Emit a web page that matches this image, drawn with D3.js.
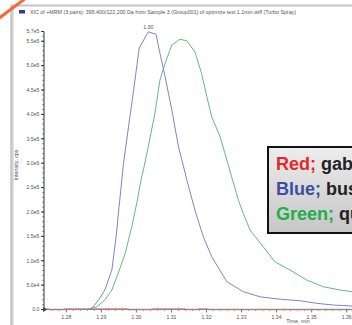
<!DOCTYPE html>
<html>
<head>
<meta charset="utf-8">
<script src="https://cdn.jsdelivr.net/npm/d3@7"></script>
<style>
  body { margin: 0; background: #fff; }
  svg { display: block; font-family: "Liberation Sans", Arial, sans-serif; }
</style>
</head>
<body>
<svg id="chart" width="352" height="325"></svg>
<script>
// time (min) / intensity (cps)
const blueTime = [1.2860, 1.2868, 1.2877, 1.2896, 1.2910, 1.2930, 1.2942, 1.2963, 1.2991, 1.3008, 1.3034, 1.3056, 1.3067, 1.3082, 1.3101, 1.3120, 1.3137, 1.3144, 1.3167, 1.3191, 1.3215, 1.3258, 1.3305, 1.3353, 1.3410, 1.3467, 1.3514, 1.3562, 1.3612, 1.3650]
const blueIntensity = [0, 1000, 5700, 23600, 40000, 81000, 149000, 299000, 444000, 536000, 569500, 564000, 526000, 477000, 409000, 334000, 286000, 265000, 204000, 149000, 108000, 57000, 36500, 26000, 21000, 18000, 12700, 9200, 7200, 6500]

const greenTime = [1.2860, 1.2873, 1.2887, 1.2910, 1.2930, 1.2948, 1.2968, 1.2987, 1.3001, 1.3015, 1.3020, 1.3034, 1.3053, 1.3067, 1.3082, 1.3101, 1.3124, 1.3144, 1.3167, 1.3186, 1.3201, 1.3215, 1.3239, 1.3291, 1.3305, 1.3324, 1.3358, 1.3395, 1.3438, 1.3486, 1.3533, 1.3581, 1.3615, 1.3650]
const greenIntensity = [0, 2500, 5700, 19500, 40000, 74000, 115000, 170000, 218000, 272000, 286000, 334000, 403000, 470000, 505000, 542000, 554000, 551000, 528000, 484000, 436000, 395000, 354000, 224000, 197000, 163000, 132000, 98000, 81000, 60500, 46700, 40000, 36500, 34000]

const redTime = [1.2737, 1.2748, 1.2752, 1.2792, 1.2796, 1.2976, 1.2980, 1.3043, 1.3047, 1.3139, 1.3143, 1.3175, 1.3179, 1.3202, 1.3206, 1.3650]
const redIntensity = [700, 700, 0, 0, 700, 700, 0, 0, 700, 700, 0, 0, 700, 700, 0, 0]

const xTicks = [1.28, 1.29, 1.30, 1.31, 1.32, 1.33, 1.34, 1.35, 1.36]
const yTicks = [0, 5e4, 1e5, 1.5e5, 2e5, 2.5e5, 3e5, 3.5e5, 4e5, 4.5e5, 5e5, 5.5e5, 5.7e5]
const yTickLabels = ["0.0", "5.0e4", "1.0e5", "1.5e5", "2.0e5", "2.5e5", "3.0e5", "3.5e5", "4.0e5", "4.5e5", "5.0e5", "5.5e5", "5.7e5"]

const legendLabels = [
    { key: "Red;", rest: " gabapentin", colour: "#e8262a" },
    { key: "Blue;", rest: " buspirone", colour: "#3c4ea2" },
    { key: "Green;", rest: " quetiapine", colour: "#22ad4b" },
]

const title = "XIC of +MRM (3 pairs): 395.400/122.200 Da  from Sample 3 (Group001) of optimize test 1.1min.wiff (Turbo Spray)"

const svg = d3.select("#chart")

const x = d3.scaleLinear().domain([1.28, 1.36]).range([66.3, 346.7])
const y = d3.scaleLinear().domain([0, 5.7e5]).range([309.5, 31.5])
const x0 = 44

// window frame
svg.append("line").attr("x1", 11).attr("x2", 352).attr("y1", 5.5).attr("y2", 5.5)
    .attr("stroke", "#c4c4c4").attr("stroke-width", 2)
svg.append("line").attr("x1", 11.5).attr("x2", 11.5).attr("y1", 5).attr("y2", 325)
    .attr("stroke", "#c4c4c4").attr("stroke-width", 2.5)
svg.append("line").attr("x1", 13.5).attr("x2", 13.5).attr("y1", 7).attr("y2", 325)
    .attr("stroke", "#e2e2e2").attr("stroke-width", 1)

svg.append("rect").attr("x", 19).attr("y", 10).attr("width", 6).attr("height", 3.5).attr("fill", "#2d3f8c")
svg.append("text").attr("x", 30).attr("y", 13.8).attr("font-size", 5.3).attr("fill", "#555").text(title)

// series
const line = d3.line().x((d) => x(d[0])).y((d) => y(d[1]))
const series = [
    { t: redTime, v: redIntensity, colour: "#ec7a7a", w: 1.6 },
    { t: greenTime, v: greenIntensity, colour: "#62b889", w: 1 },
    { t: blueTime, v: blueIntensity, colour: "#7c86c9", w: 1 },
]
for (const s of series) {
    svg.append("path")
        .datum(s.t.map((t, i) => [t, s.v[i]]))
        .attr("fill", "none")
        .attr("stroke", s.colour)
        .attr("stroke-width", s.w)
        .attr("d", line)
}

// x axis
const xAxis = svg.append("g").attr("transform", `translate(0, ${y(0)})`)
xAxis.append("line").attr("x1", x0).attr("x2", 352).attr("stroke", "#8a8a8a").attr("stroke-width", 1)
xAxis.selectAll(".minor")
    .data(d3.range(1.274, 1.366, 0.002))
    .join("line")
    .attr("x1", (d) => x(d)).attr("x2", (d) => x(d))
    .attr("y1", 0).attr("y2", 1.5)
    .attr("stroke", "#999")
xAxis.selectAll(".major")
    .data(xTicks)
    .join("line")
    .attr("x1", (d) => x(d)).attr("x2", (d) => x(d))
    .attr("y1", 0).attr("y2", 3)
    .attr("stroke", "#777")
xAxis.selectAll("text")
    .data(xTicks)
    .join("text")
    .attr("x", (d) => x(d))
    .attr("y", 9)
    .attr("text-anchor", "middle")
    .attr("font-size", 5.2)
    .attr("fill", "#555")
    .text((d) => d.toFixed(2))
svg.append("text").attr("x", 298).attr("y", 323).attr("text-anchor", "middle")
    .attr("font-size", 5.4).attr("fill", "#555").text("Time, min")

// y axis
const yAxis = svg.append("g").attr("transform", `translate(${x0}, 0)`)
yAxis.append("line").attr("y1", y(5.7e5)).attr("y2", y(0)).attr("stroke", "#333")
yAxis.selectAll(".minor")
    .data(d3.range(0, 5.7e5, 1e4))
    .join("line")
    .attr("y1", (d) => y(d)).attr("y2", (d) => y(d))
    .attr("x1", -1.5).attr("x2", 0)
    .attr("stroke", "#555")
yAxis.selectAll(".major")
    .data(yTicks)
    .join("line")
    .attr("y1", (d) => y(d)).attr("y2", (d) => y(d))
    .attr("x1", -3).attr("x2", 0)
    .attr("stroke", "#333")
yAxis.selectAll("text")
    .data(yTicks)
    .join("text")
    .attr("x", -4.5)
    .attr("y", (d) => y(d) + 1.8)
    .attr("text-anchor", "end")
    .attr("font-size", 5.2)
    .attr("fill", "#555")
    .text((d, i) => yTickLabels[i])
svg.append("text")
    .attr("transform", `translate(17.5, 165) rotate(-90)`)
    .attr("text-anchor", "middle")
    .attr("font-size", 5.4)
    .attr("fill", "#555")
    .text("Intensity, cps")

// origin marker
svg.append("path")
    .attr("d", `M${x0 - 1},${y(0) - 2.5} L${x0 + 3},${y(0)} L${x0 - 1},${y(0) + 2.5} Z`)
    .attr("fill", "#2d3f8c")

// apex label
svg.append("text").attr("x", x(1.3034)).attr("y", y(569500) - 3)
    .attr("text-anchor", "middle").attr("font-size", 5.3).attr("fill", "#555").text("1.30")

// pasted legend box
const grad = svg.append("defs").append("linearGradient").attr("id", "lg")
    .attr("x1", 0).attr("x2", 0).attr("y1", 0).attr("y2", 1)
grad.append("stop").attr("offset", 0).attr("stop-color", "#ededed")
grad.append("stop").attr("offset", 1).attr("stop-color", "#c6c6c6")
svg.append("rect").attr("x", 268).attr("y", 147).attr("width", 100).attr("height", 86)
    .attr("fill", "url(#lg)").attr("stroke", "#111").attr("stroke-width", 2)
legendLabels.forEach((d, i) => {
    const t = svg.append("text")
        .attr("x", 276)
        .attr("y", 170 + i * 25)
        .attr("font-size", 18)
        .attr("font-weight", "bold")
    t.append("tspan").attr("fill", d.colour).text(d.key)
    t.append("tspan").attr("fill", "#222").text(d.rest)
})

// corner slash
svg.append("line").attr("x1", -2).attr("y1", 19).attr("x2", 26).attr("y2", -2)
    .attr("stroke", "#f26a3a").attr("stroke-width", 3)
</script>
</body>
</html>
